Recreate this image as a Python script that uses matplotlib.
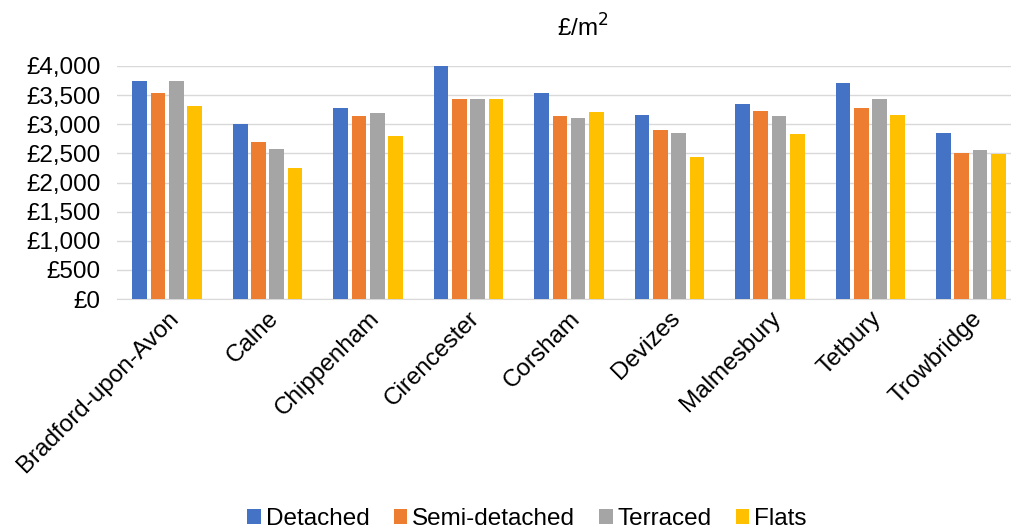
import numpy as np
import matplotlib.pyplot as plt
from matplotlib.ticker import FuncFormatter

plt.rcParams['font.family'] = ['Liberation Sans', 'DejaVu Sans']

towns = ['Bradford-upon-Avon', 'Calne', 'Chippenham', 'Cirencester', 'Corsham',
         'Devizes', 'Malmesbury', 'Tetbury', 'Trowbridge']
detached = [3735, 3005, 3280, 3995, 3540, 3165, 3345, 3715, 2850]
semi = [3540, 2695, 3145, 3425, 3145, 2905, 3225, 3285, 2515]
terraced = [3735, 2570, 3185, 3440, 3105, 2850, 3145, 3440, 2555]
flats = [3320, 2245, 2790, 3425, 3205, 2440, 2835, 3165, 2495]

series = [('Detached', detached, '#4472C4'),
          ('Semi-detached', semi, '#ED7D31'),
          ('Terraced', terraced, '#A5A5A5'),
          ('Flats', flats, '#FFC000')]

W, H = 1012, 532
fig = plt.figure(figsize=(W / 100, H / 100), dpi=100)
ax = fig.add_axes([117 / W, 1 - 299 / H, 904 / W, 233 / H])

x = np.arange(len(towns))
slot = 0.182
bw = 0.146
for i, (name, vals, col) in enumerate(series):
    ax.bar(x + (i - 1.5) * slot, vals, bw, color=col, label=name, zorder=3)

fs = 17.5
ax.set_xlim(-0.5, len(towns) - 0.5)
ax.set_ylim(0, 4000)
ax.set_yticks(np.arange(0, 4001, 500))
ax.yaxis.set_major_formatter(FuncFormatter(lambda v, p: '£{:,.0f}'.format(v)))
ax.grid(axis='y', color='#d9d9d9', linewidth=1, zorder=0)
for s in ['top', 'right', 'left']:
    ax.spines[s].set_visible(False)
ax.spines['bottom'].set_color('#d9d9d9')
ax.tick_params(axis='both', length=0, labelsize=fs, colors='#000000')
ax.tick_params(axis='y', pad=12)
ax.set_xticks(x)
ax.set_xticklabels(towns, rotation=45, ha='right', rotation_mode='anchor')
ax.tick_params(axis='x', pad=6)

fig.text(583 / W, 1 - 28 / H, '£/m$^2$', ha='center', va='center', fontsize=fs)

fig.legend(loc='center', bbox_to_anchor=(527 / W, 1 - 519 / H), ncol=4,
           frameon=False, fontsize=fs, handlelength=0.55, handleheight=0.55,
           handletextpad=0.2, columnspacing=1.0)

fig.savefig('out.png', dpi=100)
